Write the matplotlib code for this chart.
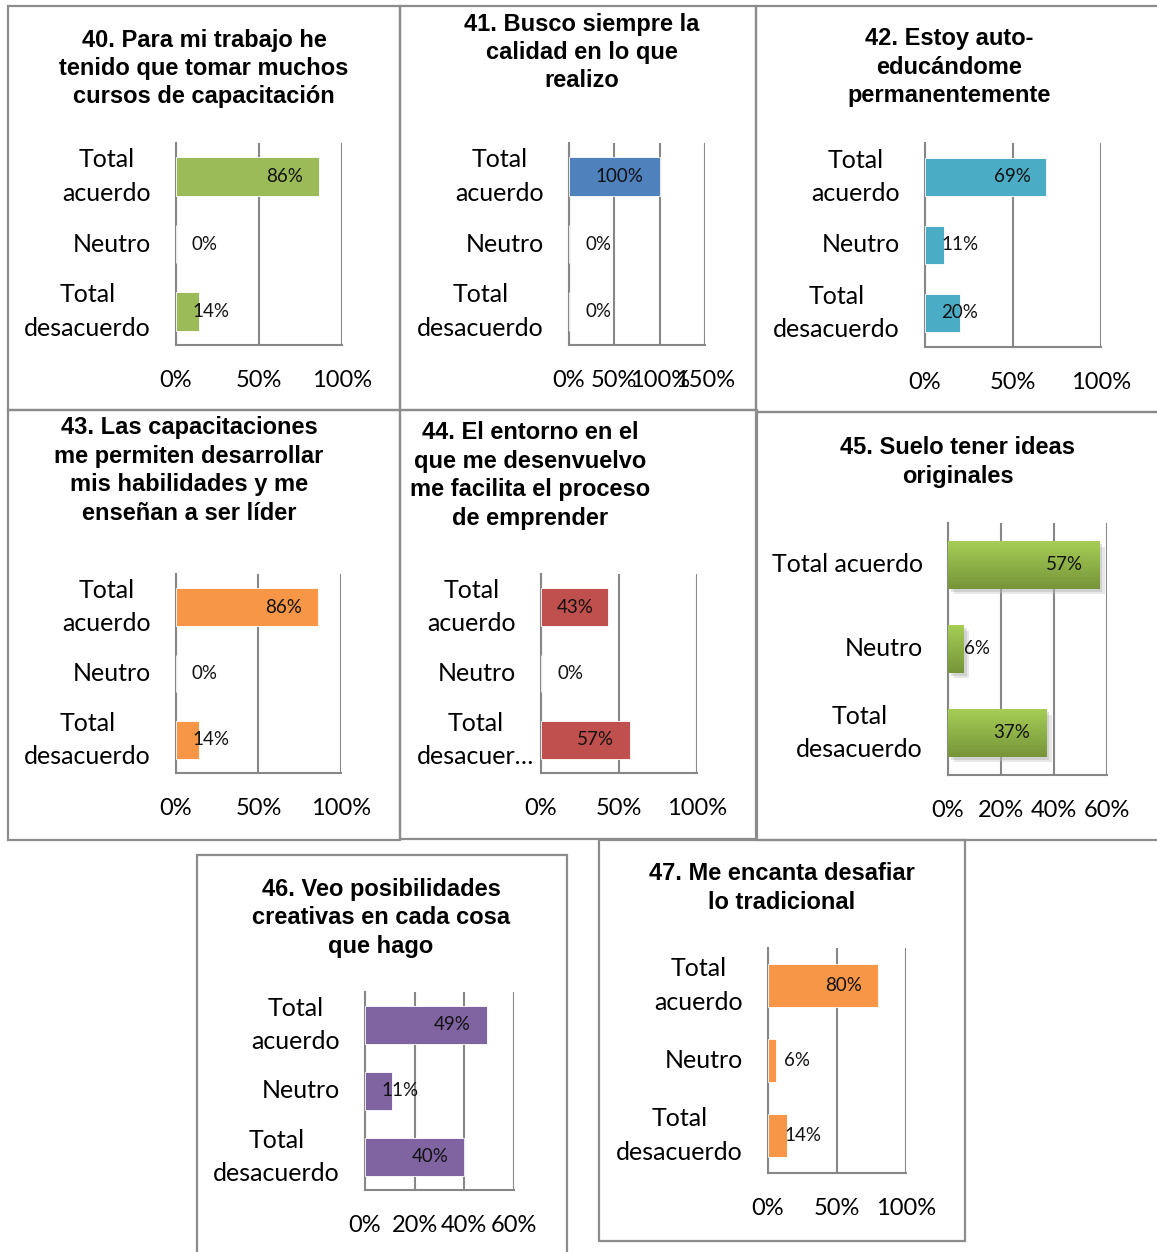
import matplotlib
matplotlib.use("Agg")
import matplotlib.pyplot as plt
import numpy as np
from matplotlib.patches import Rectangle
from matplotlib.ticker import PercentFormatter
import matplotlib.patheffects as pe

W, H, DPI = 1157, 1252, 100

# ---- data -------------------------------------------------------------
categories = ["Total\nacuerdo", "Neutro", "Total\ndesacuerdo"]
categories_44 = ["Total\nacuerdo", "Neutro", "Total\ndesacuer…"]
categories_45 = ["Total acuerdo", "Neutro", "Total\ndesacuerdo"]

title_40 = "40. Para mi trabajo he\ntenido que tomar muchos\ncursos de capacitación"
title_41 = "41. Busco siempre la\ncalidad en lo que\nrealizo"
title_42 = "42. Estoy auto-\neducándome\npermanentemente"
title_43 = "43. Las capacitaciones\nme permiten desarrollar\nmis habilidades y me\nenseñan a ser líder"
title_44 = "44. El entorno en el\nque me desenvuelvo\nme facilita el proceso\nde emprender"
title_45 = "45. Suelo tener ideas\noriginales"
title_46 = "46. Veo posibilidades\ncreativas en cada cosa\nque hago"
title_47 = "47. Me encanta desafiar\nlo tradicional"

values_40 = [0.86, 0.00, 0.14]
values_41 = [1.00, 0.00, 0.00]
values_42 = [0.69, 0.11, 0.20]
values_43 = [0.86, 0.00, 0.14]
values_44 = [0.43, 0.00, 0.57]
values_45 = [0.57, 0.06, 0.37]
values_46 = [0.49, 0.11, 0.40]
values_47 = [0.80, 0.06, 0.14]

ticks_100 = [0, 0.5, 1.0]
ticks_150 = [0, 0.5, 1.0, 1.5]
ticks_60 = [0, 0.2, 0.4, 0.6]

# ---- style ------------------------------------------------------------
GRID = "#878787"
FRAME = "#8c8c8c"
LABEL_FONT = ["Lato", "DejaVu Sans"]
TITLE_FONT = ["Liberation Sans", "DejaVu Sans"]
CAT_SIZE = 18
TICK_SIZE = 17
VAL_SIZE = 13.5
TITLE_SIZE = 17
PAD_PX = 16
CAT_GAP_PX = 25

fig = plt.figure(figsize=(W / DPI, H / DPI), dpi=DPI)
fig.patch.set_facecolor("white")


def frect(l, t, r, b):
    return [l / W, 1 - b / H, (r - l) / W, (b - t) / H]


def frame(l, t, r, b):
    fig.add_artist(Rectangle((l / W, 1 - b / H), (r - l) / W, (b - t) / H,
                             transform=fig.transFigure, fill=False,
                             edgecolor=FRAME, linewidth=1.6, zorder=0))


def title(text, x, y):
    fig.text(x / W, 1 - y / H, text, ha="center", va="center",
             multialignment="center", fontsize=TITLE_SIZE, fontweight="bold",
             family=TITLE_FONT, linespacing=1.3, color="black")


pending = []


def panel(box, cats, vals, ticks, color, gradient=None, cat_shift=None):
    ax = fig.add_axes(frect(*box))
    ax.set_facecolor("none")
    y = np.arange(len(cats))
    h = 0.57
    if gradient is None:
        ax.barh(y, vals, height=h, color=color, edgecolor="white",
                linewidth=0.6, zorder=3)
    else:
        bars = ax.barh(y, vals, height=h, color=gradient[1], linewidth=0,
                       zorder=3)
        for b in bars:
            b.set_path_effects([
                pe.SimplePatchShadow(offset=(4, -4), shadow_rgbFace="#bdbdbd",
                                     alpha=0.35),
                pe.SimplePatchShadow(offset=(2, -2), shadow_rgbFace="#a8a8a8",
                                     alpha=0.35),
                pe.Normal()])
        grad = np.linspace(0, 1, 64).reshape(-1, 1)
        cmap = matplotlib.colors.LinearSegmentedColormap.from_list(
            "g", [gradient[0], gradient[1]])
        for yi, v in zip(y, vals):
            ax.imshow(grad, extent=(0, v, yi + h / 2, yi - h / 2),
                      aspect="auto", cmap=cmap, zorder=4,
                      interpolation="bilinear")
    ax.set_xlim(ticks[0], ticks[-1])
    ax.set_ylim(len(cats) - 0.5, -0.5)
    ax.set_xticks(ticks)
    ax.xaxis.set_major_formatter(PercentFormatter(xmax=1, decimals=0))
    ax.set_yticks([])
    ax.tick_params(axis="both", length=0, colors="black")
    ax.tick_params(axis="x", pad=18, labelsize=TICK_SIZE)
    for lab in ax.get_xticklabels():
        lab.set_family(LABEL_FONT)
    # category names, right-aligned beside the value axis
    shifts = cat_shift or [0] * len(cats)
    for yi, c, s in zip(y, cats, shifts):
        ax.annotate(c, xy=(0, yi), xytext=(-CAT_GAP_PX + s, 0),
                    textcoords="offset pixels", ha="right", va="center",
                    multialignment="center", linespacing=1.55,
                    fontsize=CAT_SIZE, family=LABEL_FONT, color="black",
                    annotation_clip=False)
    ax.grid(axis="x", color=GRID, linewidth=1.5, zorder=1)
    ax.set_axisbelow(True)
    for s in ("top", "right"):
        ax.spines[s].set_visible(False)
    for s in ("left", "bottom"):
        ax.spines[s].set_color(GRID)
        ax.spines[s].set_linewidth(1.5)
        ax.spines[s].set_zorder(2)
    for yi, v in zip(y, vals):
        t = ax.annotate(f"{v * 100:.0f}%", xy=(0, yi), xytext=(0, 0),
                        textcoords="offset pixels", ha="right", va="center",
                        fontsize=VAL_SIZE, family=LABEL_FONT, color="#111111",
                        zorder=6)
        pending.append((ax, t, v))
    return ax


# ---- frames -----------------------------------------------------------
frame(8, 6, 400, 410)
frame(400, 6, 756, 410)
frame(756, 6, 1165, 412)
frame(8, 410, 400, 840)
frame(400, 410, 757, 839)
frame(756, 412, 1165, 840)
frame(197, 855, 567, 1265)
frame(599, 840, 965, 1241)

# ---- panels -----------------------------------------------------------
panel((176, 143, 342, 345), categories, values_40, ticks_100, "#9BBB59")
panel((569, 143, 705, 345), categories, values_41, ticks_150, "#4F81BD")
panel((925, 143, 1101, 347), categories, values_42, ticks_100, "#4BACC6")
panel((176, 574, 341, 773), categories, values_43, ticks_100, "#F79646")
panel((541, 574, 697, 773), categories_44, values_44, ticks_100, "#C0504D",
      cat_shift=[0, 0, 18])
panel((948, 523, 1107, 775), categories_45, values_45, ticks_60, "#9BBB59",
      gradient=("#A6CD55", "#76953A"))
panel((365, 992, 514, 1190), categories, values_46, ticks_60, "#8064A2")
panel((768, 948, 906, 1173), categories, values_47, ticks_100, "#F79646")

title(title_40, 204, 68.5)
title(title_41, 582, 52.5)
title(title_42, 949, 67)
title(title_43, 189, 470.5)
title(title_44, 530, 475.5)
title(title_45, 958, 462)
title(title_46, 381, 918)
title(title_47, 782, 888)

# value labels: inside the bar end when they fit, otherwise next to the axis
fig.canvas.draw()
renderer = fig.canvas.get_renderer()
for ax, t, v in pending:
    w = t.get_window_extent(renderer).width
    x0 = ax.transData.transform((0, 0))[0]
    xe = ax.transData.transform((v, 0))[0]
    right = max(xe - PAD_PX, x0 + PAD_PX + w)
    t.xyann = (right - x0, 0)

fig.savefig("out.png", dpi=DPI, facecolor="white")
